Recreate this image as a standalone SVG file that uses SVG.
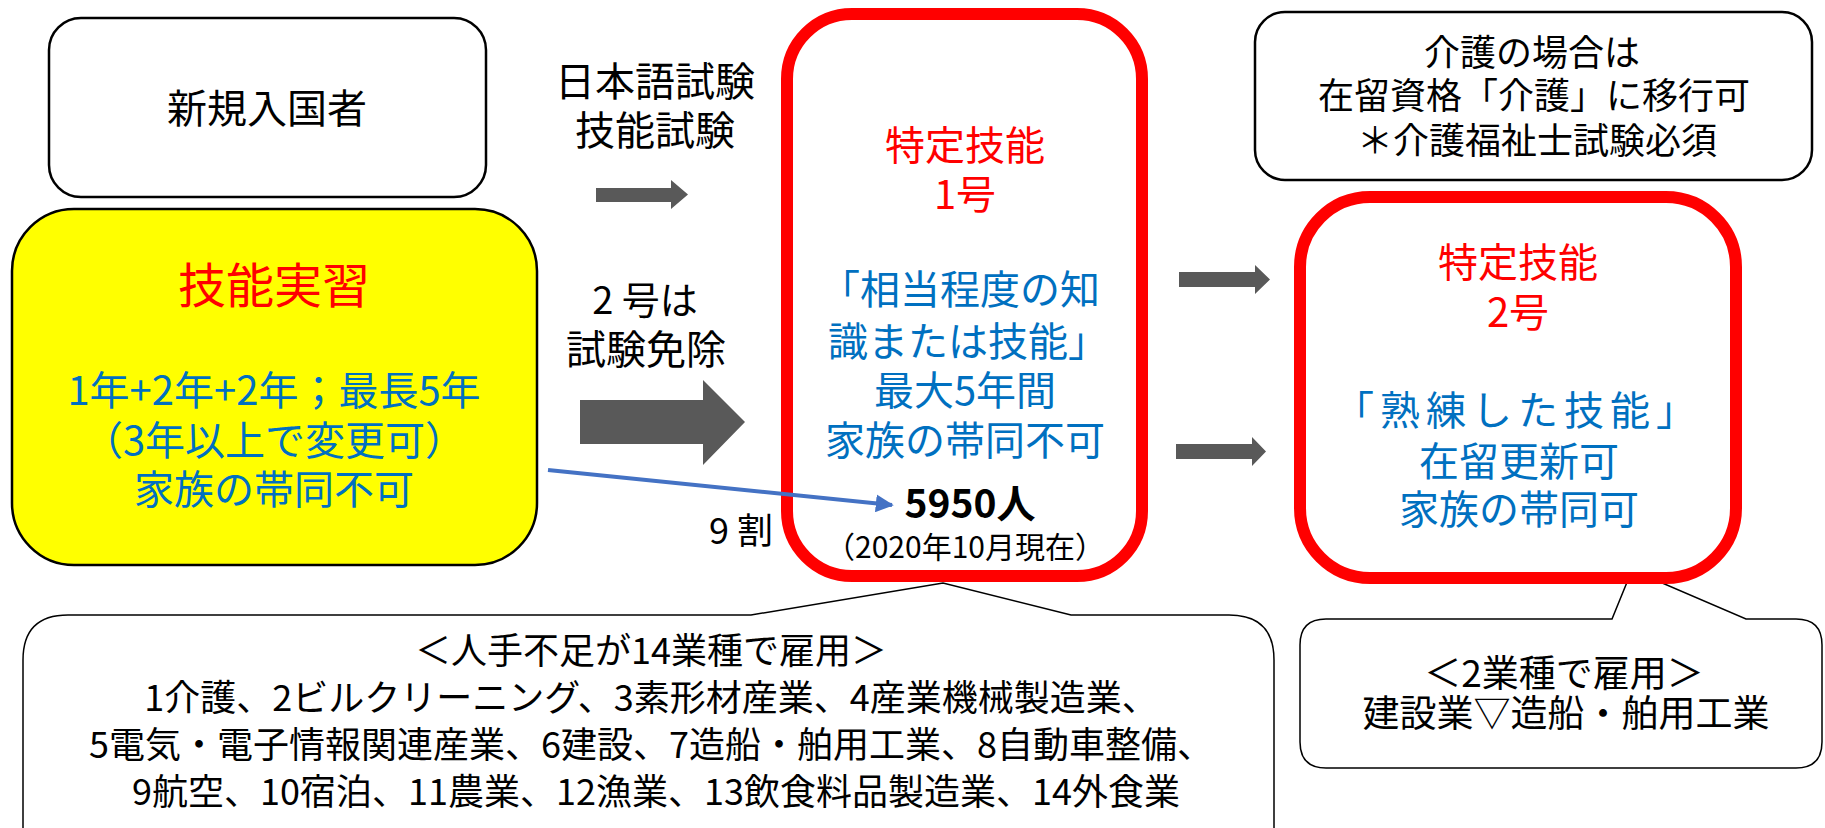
<svg xmlns="http://www.w3.org/2000/svg" width="1825" height="828" viewBox="0 0 1825 828">
<defs>
<style>
text{font-family:"Noto Sans CJK JP","Noto Sans CJK SC",sans-serif;text-anchor:middle}
.k{fill:#000}
.r{fill:#FF0000}
.b{fill:#0070C0}
.box{fill:#fff;stroke:#000;stroke-width:2.5}
.red{fill:#fff;stroke:#FF0000;stroke-width:12}
.call{fill:#fff;stroke:#000;stroke-width:1.5}
.garr{fill:#595959}
</style>
<marker id="ah" viewBox="0 0 10 10" refX="9" refY="5" markerWidth="4.5" markerHeight="4.5" orient="auto" markerUnits="strokeWidth">
<path d="M0,0 L10,5 L0,10 z" fill="#4472C4"/>
</marker>
</defs>
<rect width="1825" height="828" fill="#fff"/>

<g id="callout-14">
<path class="call" d="M68,615 L751,615 L943,583 L1071,615 L1229,615 Q1274,615 1274,660 L1274,840 L23,840 L23,660 Q23,615 68,615 Z"/>
<text class="k" x="651" y="664" font-size="36">＜人手不足が14業種で雇用＞</text>
<text class="k" x="651" y="711" font-size="36">1介護、2ビルクリーニング、3素形材産業、4産業機械製造業、</text>
<text class="k" x="651" y="758" font-size="36">5電気・電子情報関連産業、6建設、7造船・舶用工業、8自動車整備、</text>
<text class="k" x="656" y="805" font-size="36">9航空、10宿泊、11農業、12漁業、13飲食料品製造業、14外食業</text>
</g>

<g id="callout-2">
<path class="call" d="M1326,619 L1612,619 L1632,570 L1746,619 L1796,619 Q1822,619 1822,645 L1822,742 Q1822,768 1796,768 L1326,768 Q1300,768 1300,742 L1300,645 Q1300,619 1326,619 Z"/>
<text class="k" x="1564" y="687" font-size="37">＜2業種で雇用＞</text>
<text class="k" x="1566" y="727" font-size="37">建設業▽造船・舶用工業</text>
</g>

<g id="shinki">
<rect class="box" x="49" y="18" width="437" height="179" rx="32"/>
<text class="k" x="267" y="123" font-size="40">新規入国者</text>
</g>

<g id="ginou-jisshu">
<rect class="box" x="12" y="209" width="525" height="356" rx="62" style="fill:#FFFF00"/>
<text class="r" x="274" y="303" font-size="48">技能実習</text>
<text class="b" x="274" y="405" font-size="40">1年+2年+2年；最長5年</text>
<text class="b" x="274" y="455" font-size="40">（3年以上で変更可）</text>
<text class="b" x="274" y="504" font-size="40">家族の帯同不可</text>
</g>

<g id="tokutei1">
<rect class="red" x="787" y="14" width="355" height="562" rx="65"/>
<text class="r" x="965" y="160" font-size="40">特定技能</text>
<text class="r" x="965" y="209" font-size="40">1号</text>
<text class="b" x="960" y="304" font-size="40">「相当程度の知</text>
<text class="b" x="968" y="356" font-size="40">識または技能」</text>
<text class="b" x="965" y="405" font-size="40">最大5年間</text>
<text class="b" x="965" y="455" font-size="40">家族の帯同不可</text>
<text class="k" x="970" y="518" font-size="39" font-weight="bold">5950人</text>
<text class="k" x="965" y="558" font-size="30">（2020年10月現在）</text>
</g>

<g id="kaigo">
<rect class="box" x="1255" y="12" width="557" height="168" rx="30"/>
<text class="k" x="1532" y="66" font-size="36">介護の場合は</text>
<text class="k" x="1534" y="109" font-size="36">在留資格「介護」に移行可</text>
<text class="k" x="1537" y="154" font-size="36">＊介護福祉士試験必須</text>
</g>

<g id="tokutei2">
<rect class="red" x="1300" y="197" width="436" height="381" rx="70"/>
<text class="r" x="1518" y="277" font-size="40">特定技能</text>
<text class="r" x="1518" y="327" font-size="40">2号</text>
<text class="b" x="1518" y="425" font-size="40" letter-spacing="6">「熟練した技能」</text>
<text class="b" x="1519" y="476" font-size="40">在留更新可</text>
<text class="b" x="1519" y="524" font-size="40">家族の帯同可</text>
</g>

<g id="labels">
<text class="k" x="655" y="96" font-size="40">日本語試験</text>
<text class="k" x="655" y="145" font-size="40">技能試験</text>
<text class="k" x="645" y="314" font-size="38">2 号は</text>
<text class="k" x="646" y="364" font-size="40">試験免除</text>
<text class="k" x="741" y="544" font-size="36">9 割</text>
</g>

<g id="connectors">
<polygon class="garr" points="596,188 671,188 671,180 688,194.5 671,209 671,202 596,202"/>
<polygon class="garr" points="580,400 703,400 703,380 745,422 703,465 703,444 580,444"/>
<polygon class="garr" points="1179,272 1255,272 1255,265 1270,279.5 1255,294 1255,287 1179,287"/>
<polygon class="garr" points="1176,444 1252,444 1252,437 1266,451.5 1252,466 1252,459 1176,459"/>
<line x1="548" y1="470" x2="892" y2="505" stroke="#4472C4" stroke-width="4" marker-end="url(#ah)"/>
</g>
</svg>
